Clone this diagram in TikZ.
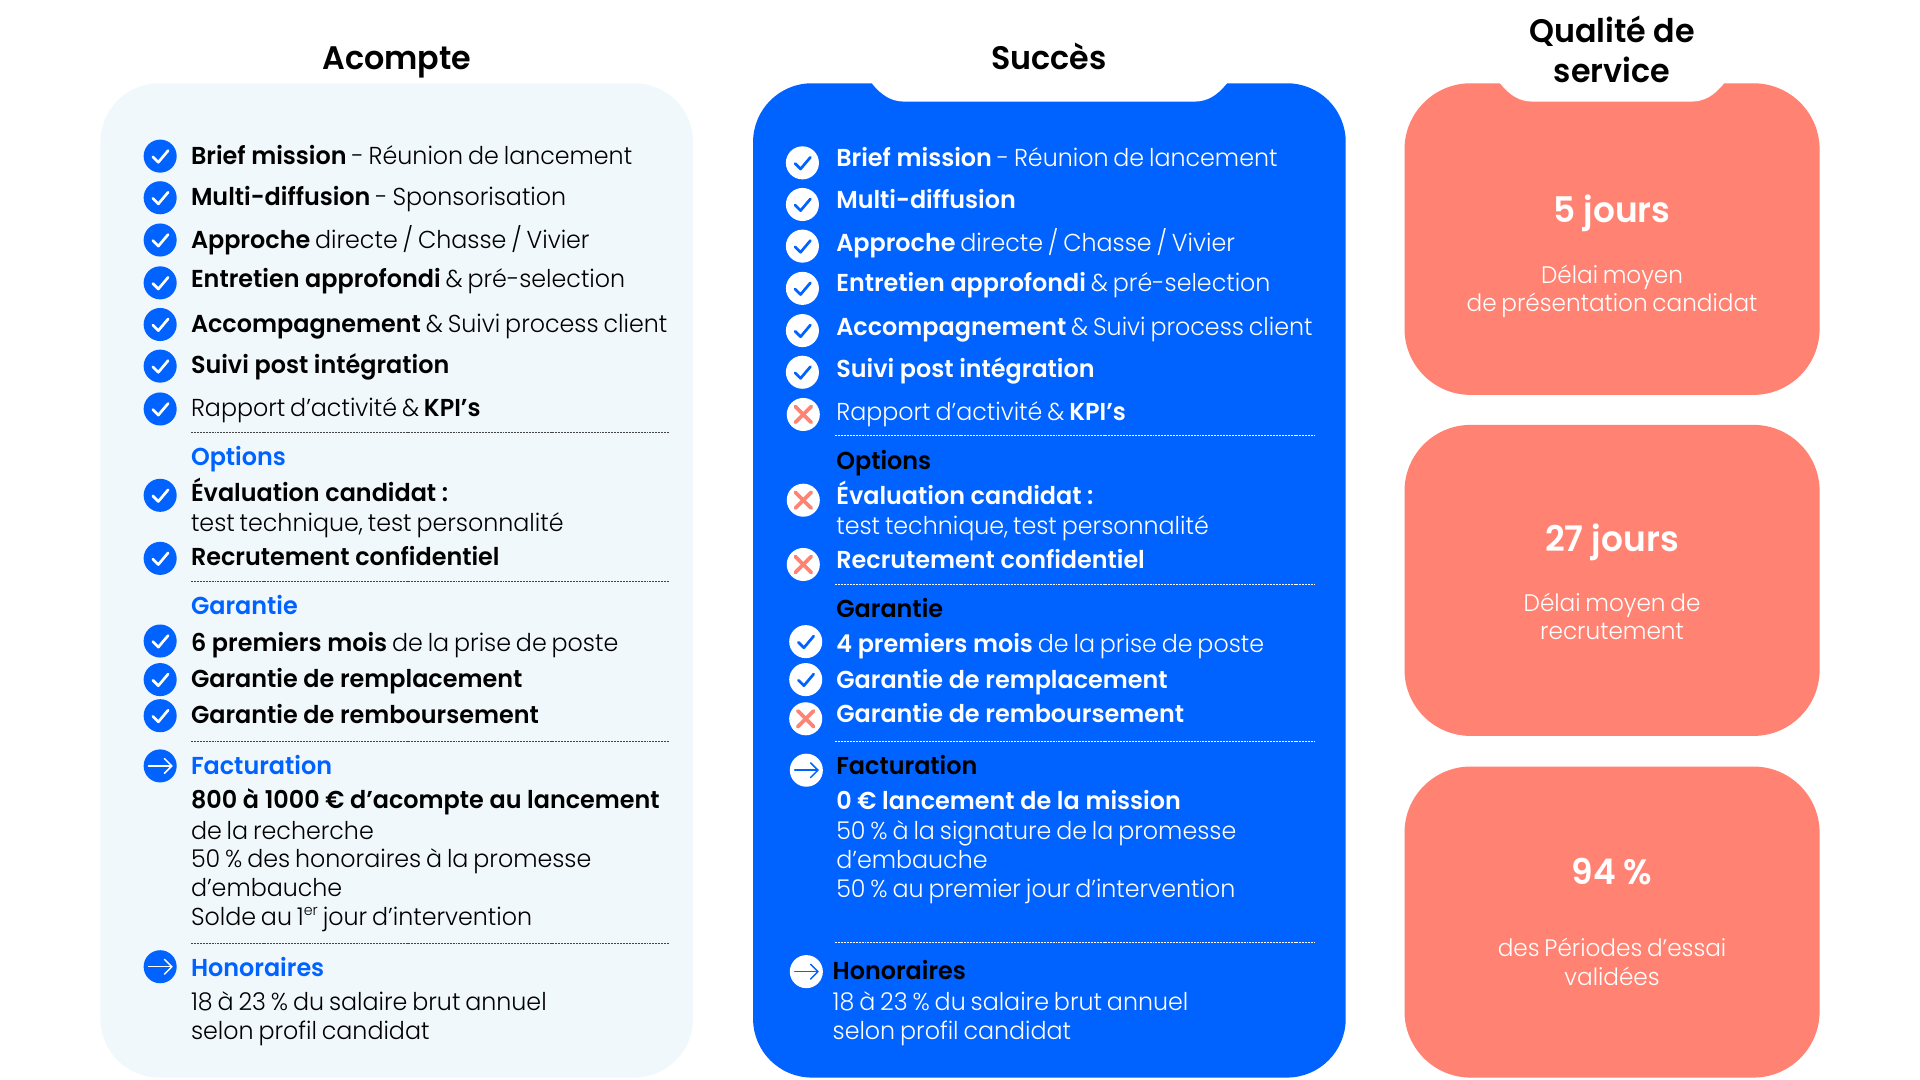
\documentclass[tikz,border=0pt]{standalone}
\usepackage{fontspec}
\setmainfont{Poppins}[BoldFont={Poppins SemiBold},UprightFont={Poppins Light},UprightFeatures={FakeStretch=0.97,WordSpace=0.75},BoldFeatures={FakeStretch=0.975}]
\definecolor{pale}{HTML}{F1F8FC}
\definecolor{blu}{HTML}{0062FF}
\definecolor{coral}{HTML}{FF8272}
\definecolor{rule}{HTML}{444444}
\newcommand{\fsz}[1]{\fontsize{#1}{#1}\selectfont}
\tikzset{
  x=0.5pt,y=-0.5pt,
  panel/.style={rounded corners=24pt},
  txt/.style={anchor=base west,inner sep=0pt,outer sep=0pt,font=\fsz{10pt}},
  ctr/.style={anchor=base,inner sep=0pt,outer sep=0pt,font=\fsz{9.75pt},text=white},
  head/.style={anchor=base,inner sep=0pt,outer sep=0pt,font=\fsz{13.3pt}\bfseries,text=black},
  big/.style={anchor=base,inner sep=0pt,outer sep=0pt,font=\fsz{14.4pt}\bfseries,text=white},
  sep/.style={draw=rule,line width=0.3pt,dash pattern=on 0.8pt off 0.4pt},
  sepw/.style={draw=white,line width=0.3pt,dash pattern=on 0.8pt off 0.4pt},
  disc/.style={circle,minimum size=13.5pt,inner sep=0pt,outer sep=0pt},
}
% \tl{name}{x}{center y}{text}
\newcommand{\tl}[4]{\node[txt] (#1) at (#2,#3+7.2) {#4};}
\newcommand{\chkicon}[5]{\node[disc,fill=#4] (#1) at (#2,#3) {};
  \draw[#5,line width=1.1pt,line cap=round,line join=round] ([shift={(-6,0.5)}]#1.center) -- ([shift={(-1.5,5)}]#1.center) -- ([shift={(6.5,-4.5)}]#1.center);}
\newcommand{\arricon}[5]{\node[disc,fill=#4] (#1) at (#2,#3) {};
  \draw[#5,line width=0.6pt,line cap=round,line join=round] ([shift={(-9.5,0)}]#1.center) -- ([shift={(9.5,0)}]#1.center);
  \draw[#5,line width=0.6pt,line cap=round,line join=round] ([shift={(3.5,-6)}]#1.center) -- ([shift={(9.5,0)}]#1.center) -- ([shift={(3.5,6)}]#1.center);}
\newcommand{\crossicon}[3]{\node[disc,fill=white] (#1) at (#2,#3) {};
  \draw[coral,line width=1.5pt,line cap=round] ([shift={(-6.5,-6.5)}]#1.center) -- ([shift={(6.5,6.5)}]#1.center);
  \draw[coral,line width=1.5pt,line cap=round] ([shift={(6.5,-6.5)}]#1.center) -- ([shift={(-6.5,6.5)}]#1.center);}
\newcommand{\notch}[3]{\fill[white] (#1,66) -- (#1,68) .. controls (#1+8,78) and (#1+16,83) .. (#1+27,83) -- (#2-27,83) .. controls (#2-16,83) and (#2-8,78) .. (#2,68) -- (#2,66) -- cycle;}
\begin{document}
\begin{tikzpicture}
\useasboundingbox (0,0) rectangle (1568,882);
\fill[white] (0,0) rectangle (1568,882);
% panels
\fill[pale,panel] (82,68) rectangle (566,880);
\fill[blu,panel] (615,68) rectangle (1099,880);
\notch{712}{1002}{}
\fill[coral,rounded corners=27pt] (1147,68) rectangle (1486,322.5);
\notch{1225}{1408}{}
\fill[coral,rounded corners=27pt] (1147,347) rectangle (1486,601);
\fill[coral,rounded corners=27pt] (1147,626) rectangle (1486,880);
% titles
\node[head] (tA) at (324,57) {Acompte};
\node[head] (tS) at (856.5,57) {Succès};
\node[head] (tQa) at (1316.5,35) {Qualité de};
\node[head] (tQb) at (1316.5,67) {service};
% separators
\foreach \n/\y in {a/353,b/475,c/605.5,d/770.5} {\coordinate (la\n) at (156,\y); \coordinate (ra\n) at (547,\y); \draw[sep] (la\n) -- (ra\n);}
\foreach \n/\y in {a/355.5,b/477.5,c/605.5,d/769.5} {\coordinate (ls\n) at (682,\y); \coordinate (rs\n) at (1074,\y); \draw[sepw] (ls\n) -- (rs\n);}
% left icons
\foreach \n/\y in {a/127.5,b/161.5,c/196,d/231,e/265,f/299,g/334,h/404.5,i/456,j/523.5,k/555,l/584.5} {\chkicon{ia\n}{130.8}{\y}{blu}{white}}
\arricon{iam}{130.8}{625.5}{blu}{white}
\arricon{ian}{130.8}{789.5}{blu}{white}
% left text
\begin{scope}[text=black]
\tl{a1}{156}{127}{\textbf{Brief mission} - Réunion de lancement}
\tl{a2}{156}{161}{\textbf{Multi-diffusion} - Sponsorisation}
\tl{a3}{156}{196}{\textbf{Approche} directe / Chasse / Vivier}
\tl{a4}{156}{228}{\textbf{Entretien approfondi} \& pré-selection}
\tl{a5}{156}{264.5}{\textbf{Accompagnement} \& Suivi process client}
\tl{a6}{156}{298}{\textbf{Suivi post intégration}}
\tl{a7}{156}{333}{Rapport d’activité \& \textbf{KPI’s}}
\node[txt,text=blu] (a8) at (156,380.2) {\textbf{Options}};
\tl{a9}{156}{402.5}{\textbf{Évaluation candidat :}}
\tl{a10}{156}{427}{test technique, test personnalité}
\tl{a11}{156}{455}{\textbf{Recrutement confidentiel}}
\node[txt,text=blu] (a12) at (156,502.2) {\textbf{Garantie}};
\tl{a13}{156}{525}{\textbf{6 premiers mois} de la prise de poste}
\tl{a14}{156}{554.5}{\textbf{Garantie de remplacement}}
\tl{a15}{156}{584}{\textbf{Garantie de remboursement}}
\node[txt,text=blu] (a16) at (156,632.2) {\textbf{Facturation}};
\tl{a17}{156}{653}{\textbf{800 à 1000 € d’acompte au lancement}}
\tl{a18}{156}{678}{de la recherche}
\tl{a19}{156}{701}{50 \% des honoraires à la promesse}
\tl{a20}{156}{725}{d’embauche}
\tl{a21}{156}{749}{Solde au 1\raisebox{4.2pt}{\fontsize{6pt}{6pt}\selectfont er} jour d’intervention}
\node[txt,text=blu] (a22) at (156,797.2) {\textbf{Honoraires}};
\tl{a23}{156}{818}{18 à 23 \% du salaire brut annuel}
\tl{a24}{156}{842}{selon profil candidat}
\end{scope}
% middle icons
\foreach \n/\x/\y in {a/655.3/133,b/655.3/167,c/655.3/201,d/655.3/235.5,e/655.3/270,f/655.3/304,g/658/524,h/658/555} {\chkicon{is\n}{\x}{\y}{white}{blu}}
\crossicon{isx1}{656}{338.5}
\crossicon{isx2}{656}{408.5}
\crossicon{isx3}{656}{461}
\crossicon{isx4}{658}{587}
\arricon{ism}{658.5}{629}{white}{blu}
\arricon{isn}{658.5}{793.5}{white}{blu}
% middle text
\begin{scope}[text=white]
\tl{s1}{683}{129}{\textbf{Brief mission} - Réunion de lancement}
\tl{s2}{683}{163}{\textbf{Multi-diffusion}}
\tl{s3}{683}{198}{\textbf{Approche} directe / Chasse / Vivier}
\tl{s4}{683}{231}{\textbf{Entretien approfondi} \& pré-selection}
\tl{s5}{683}{267}{\textbf{Accompagnement} \& Suivi process client}
\tl{s6}{683}{301}{\textbf{Suivi post intégration}}
\tl{s7}{683}{336}{Rapport d’activité \& \textbf{KPI’s}}
\node[txt,text=black] (s8) at (683,383.2) {\textbf{Options}};
\tl{s9}{683}{405}{\textbf{Évaluation candidat :}}
\tl{s10}{683}{429}{test technique, test personnalité}
\tl{s11}{683}{457}{\textbf{Recrutement confidentiel}}
\node[txt,text=black] (s12) at (683,504.2) {\textbf{Garantie}};
\tl{s13}{683}{526}{\textbf{4 premiers mois} de la prise de poste}
\tl{s14}{683}{555}{\textbf{Garantie de remplacement}}
\tl{s15}{683}{583}{\textbf{Garantie de remboursement}}
\node[txt,text=black] (s16) at (683,632.2) {\textbf{Facturation}};
\tl{s17}{683}{654}{\textbf{0 € lancement de la mission}}
\tl{s18}{683}{678}{50 \% à la signature de la promesse}
\tl{s19}{683}{702}{d’embauche}
\tl{s20}{683}{726}{50 \% au premier jour d’intervention}
\node[txt,text=black] (s21) at (680,800.2) {\textbf{Honoraires}};
\tl{s22}{680}{818}{18 à 23 \% du salaire brut annuel}
\tl{s23}{680}{842}{selon profil candidat}
\end{scope}
% right text
\node[big] (q1) at (1316.5,182) {5 jours};
\node[ctr] (q1a) at (1316.5,231.5) {Délai moyen};
\node[ctr] (q1b) at (1316.5,254.5) {de présentation candidat};
\node[big] (q2) at (1316.5,450) {27 jours};
\node[ctr] (q2a) at (1316.5,499) {Délai moyen de};
\node[ctr] (q2b) at (1316.5,522.5) {recrutement};
\node[big] (q3) at (1316.5,722.5) {94 \%};
\node[ctr] (q3a) at (1316.5,781.5) {des Périodes d’essai};
\node[ctr] (q3b) at (1316.5,805) {validées};
\end{tikzpicture}
\end{document}
